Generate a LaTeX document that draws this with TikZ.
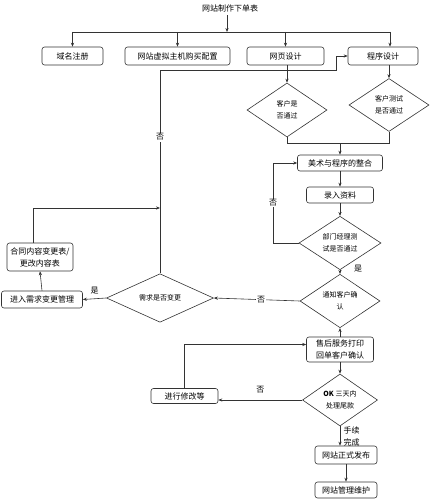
\documentclass[tikz,border=0pt]{standalone}
\usepackage{fontspec}
\newfontfamily\cjk{Noto Sans CJK SC}
\usetikzlibrary{positioning,arrows.meta,shapes.geometric,calc}

\begin{document}
\begin{tikzpicture}[x=1pt,y=-1pt,font=\cjk\fontsize{8}{12}\selectfont,
  line width=0.6pt,draw=black!80,>={Stealth[length=4pt,width=3.2pt]},
  box/.style={draw,rounded corners=2.5pt,inner sep=1pt,minimum height=16pt,align=center},
  ask/.style={draw,diamond,inner sep=0pt,align=center,font=\cjk\fontsize{7}{12}\selectfont},
  lbl/.style={fill=white,inner sep=1pt}]
  \useasboundingbox (0,0) rectangle (430,500);

  % order and first tasks
  \node (order) at (230,8) {网站制作下单表};
  \node[box,minimum width=61pt,minimum height=18pt] (domain) at (72.5,56) {域名注册};
  \node[box,minimum width=105pt,minimum height=18pt] (host) at (177.5,56) {网站虚拟主机购买配置};
  \node[box,minimum width=77pt,minimum height=18pt] (page) at (285.5,56) {网页设计};
  \node[box,minimum width=70pt,minimum height=18pt] (prog) at (383,56) {程序设计};

  % client checks
  \node[ask,minimum width=80pt,minimum height=54pt] (okpage) at (287,110) {客户是\\否通过};
  \node[ask,minimum width=80pt,minimum height=53pt] (okprog) at (389,105) {客户测试\\是否通过};

  % integration
  \node[box,minimum width=85pt] (merge) at (340,163) {美术与程序的整合};
  \node[box,minimum width=67pt] (input) at (340,195) {录入资料};
  \node[ask,minimum width=82pt,minimum height=48pt] (mgr) at (340,243) {部门经理测\\试是否通过};
  \node[ask,minimum width=80pt,minimum height=42pt] (notify) at (340,301) {通知客户确\\认};
  \node (yes1) at (358,269) {是};

  % change requests
  \node[ask,minimum width=107pt,minimum height=35pt] (change) at (160,298) {需求是否变更};
  \node[box,minimum width=81pt,minimum height=17pt] (cmgmt) at (42,299.5) {进入需求变更管理};
  \node[box,minimum width=66pt,minimum height=28pt] (contract) at (40,257) {合同内容变更表/\\更改内容表};

  % after sales
  \node[box,minimum width=67pt,minimum height=25pt] (after) at (340,349.5) {售后服务打印\\回单客户确认};
  \node[ask,minimum width=75pt,minimum height=52pt] (final) at (340,400) {\textbf{OK} 三天内\\处理尾款};
  \node[box,minimum width=67pt,minimum height=15pt] (fix) at (184.5,396) {进行修改等};
  \node[box,minimum width=62pt,minimum height=18pt] (publish) at (346,455) {网站正式发布};
  \node[box,minimum width=62pt] (maint) at (346,490) {网站管理维护};

  % branch to tasks
  \coordinate (bus) at (227,32);
  \coordinate (bus4) at (390,32);
  \draw[->] (bus |- order.south) -- (bus);
  \draw (domain.north |- bus) -- (bus4);
  \draw[->] (domain.north |- bus) -- (domain.north);
  \draw[->] (host.north |- bus) -- (host.north);
  \draw[->] (page.north |- bus) -- (page.north);
  \draw[->] (bus4) -- (bus4 |- prog.north);

  % checks and join
  \draw[->] (okpage.north |- page.south) -- (okpage.north);
  \draw[->] (okprog.north |- prog.south) -- (okprog.north);
  \coordinate (join) at (340,143);
  \draw (okpage.south) -- (okpage.south |- join) -- (okprog.south |- join) -- (okprog.south);
  \draw[->] (join) -- (merge.north);
  \draw[->] (merge) -- (input);
  \draw[->] (input) -- (mgr);

  % manager loop
  \coordinate (back) at (273,243);
  \draw[->] (mgr.west) -- (back) -- node[lbl]{否} (back |- merge) -- (merge.west);
  \draw[->] (mgr.south) -- (notify.north);

  % notify and change
  \draw[->] (notify.west) -- node[lbl,pos=0.45]{否} (change.east);
  \draw[->] (after.north) -- (notify.south);
  \draw[->] (change.west) -- node[above=1pt]{是} (cmgmt.east);
  \draw[->] (cmgmt.north) -- (contract.south);
  \coordinate (up1) at (160,208);
  \draw[->] ([xshift=-7pt]contract.north) |- (up1);
  \coordinate (top2) at (336,70);
  \draw[->] (change.north) -- node[lbl,pos=0.67]{否} (change.north |- top2) -- (top2) |- (prog.west);

  % final steps
  \draw[->] (after) -- (final);
  \draw[->] (fix.north) |- ([yshift=5pt]after.west);
  \draw[->] (final.west) -- node[above=3pt]{否} (final.west -| fix.east);
  \draw[->] (final.south) -- node[right,align=left]{手续\\完成} (final.south |- publish.north);
  \draw[->] (publish) -- (maint);
\end{tikzpicture}
\end{document}
